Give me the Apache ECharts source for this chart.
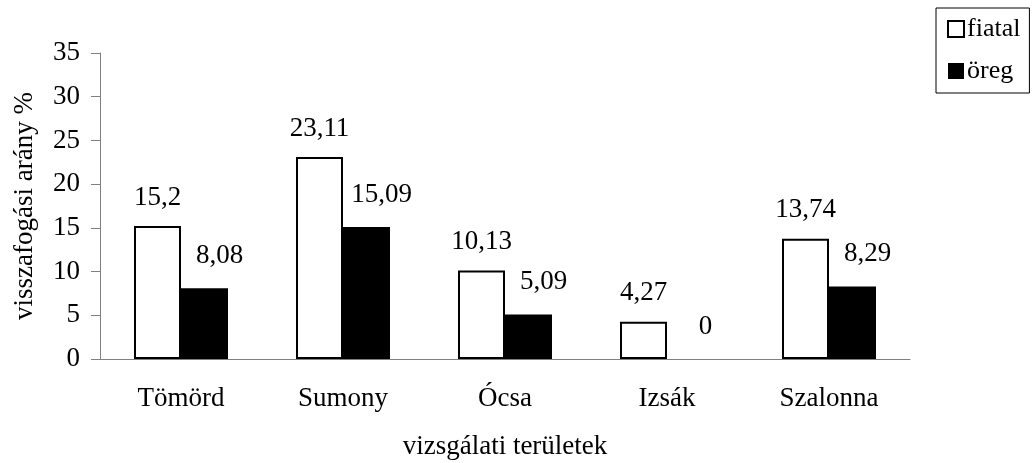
<!DOCTYPE html>
<html>
<head>
<meta charset="utf-8">
<script src="https://cdn.jsdelivr.net/npm/echarts@6/dist/echarts.min.js"></script>
<style>
  html, body { margin: 0; padding: 0; background: #fff; }
  #chart { width: 1032px; height: 463px; }
</style>
</head>
<body>
<div id="chart"></div>
<script>
// adatok
const teruletek = ['Tömörd', 'Sumony', 'Ócsa', 'Izsák', 'Szalonna']
const fiatal = [15.2, 23.11, 10.13, 4.27, 13.74]
const oreg = [8.08, 15.09, 5.09, 0, 8.29]

const serif = '"Liberation Serif", "Times New Roman", serif'
const fmt = p => String(p.value).replace('.', ',')

let chart = echarts.init(document.getElementById('chart'))

chart.setOption({
    animation: false,
    textStyle: {fontFamily: serif, color: '#000'},
    grid: {left: 100, right: 122, top: 53, bottom: 104, containLabel: false, outerBoundsMode: 'none'},
    legend: {
        orient: 'vertical',
        left: 936, top: 8,
        padding: [8, 9, 9, 11],
        itemGap: 16,
        itemWidth: 16, itemHeight: 16,
        icon: 'rect',
        borderColor: '#000', borderWidth: 1,
        textStyle: {fontFamily: serif, fontSize: 26, color: '#000', padding: [0, 0, 0, -2]},
        data: ['fiatal', 'öreg']
    },
    xAxis: {
        type: 'category',
        data: teruletek,
        name: 'vizsgálati területek',
        nameLocation: 'middle',
        nameGap: 74,
        nameTextStyle: {fontFamily: serif, fontSize: 27, color: '#000'},
        axisLine: {lineStyle: {color: '#808080', width: 1}},
        axisTick: {length: 8, lineStyle: {color: '#000'}},
        axisLabel: {margin: 26, fontFamily: serif, fontSize: 27, color: '#000'}
    },
    yAxis: {
        type: 'value',
        min: 0, max: 35, interval: 5,
        name: 'visszafogási arány %',
        nameLocation: 'middle',
        nameGap: 62,
        nameTextStyle: {fontFamily: serif, fontSize: 27, color: '#000'},
        axisLine: {show: true, lineStyle: {color: '#808080', width: 1}},
        axisTick: {show: true, length: 9, lineStyle: {color: '#808080'}},
        axisLabel: {margin: 20, fontFamily: serif, fontSize: 27, color: '#000'},
        splitLine: {show: false}
    },
    series: [
        {
            name: 'fiatal',
            type: 'bar',
            data: fiatal,
            barWidth: 47,
            barGap: '0%',
            itemStyle: {color: '#fff', borderColor: '#000', borderWidth: 2},
            label: {show: true, position: 'top', distance: 15, formatter: fmt,
                fontFamily: serif, fontSize: 27, color: '#000'}
        },
        {
            name: 'öreg',
            type: 'bar',
            data: oreg,
            barWidth: 47,
            barGap: '0%',
            itemStyle: {color: '#000', borderColor: '#000', borderWidth: 0},
            label: {show: true, position: 'top', distance: 19, offset: [15, 0], formatter: fmt,
                fontFamily: serif, fontSize: 27, color: '#000'}
        }
    ]
})
</script>
</body>
</html>
